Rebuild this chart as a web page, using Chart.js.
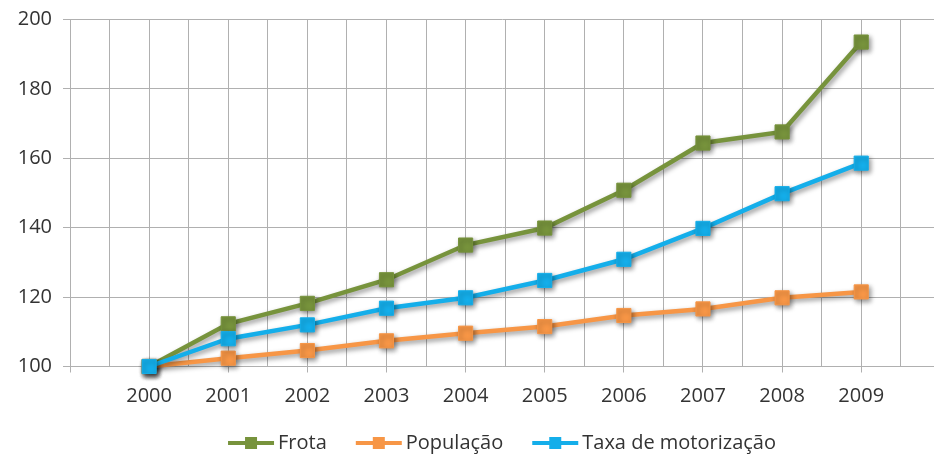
<!DOCTYPE html>
<html>
<head>
<meta charset="utf-8">
<title>Frota, População e Taxa de motorização (2000 = 100)</title>
<script src="https://cdn.jsdelivr.net/npm/chart.js@4/dist/chart.umd.min.js"></script>
<style>
  html, body { margin: 0; padding: 0; background: #ffffff; }
  #wrap { width: 934px; height: 454px; }
</style>
</head>
<body>
<div id="wrap"><canvas id="c" width="934" height="454"></canvas></div>
<script>
// Index numbers, base year 2000 = 100
const years = [2000, 2001, 2002, 2003, 2004, 2005, 2006, 2007, 2008, 2009];
const frota = [100, 112.3, 118.2, 125, 135, 139.9, 150.8, 164.4, 167.6, 193.5];
const populacao = [100, 102.4, 104.6, 107.4, 109.6, 111.5, 114.7, 116.6, 119.8, 121.5];
const taxa = [100, 108, 112, 116.8, 119.8, 124.8, 130.9, 139.8, 149.8, 158.6];
const seriesNames = ['Frota', 'População', 'Taxa de motorização'];
const yTicks = [100, 120, 140, 160, 180, 200];

const colors = ['#77933C', '#F79646', '#14AEEA'];
const FONT = '"Open Sans", "Liberation Sans", sans-serif';
const TEXT = '#333333';
const GRID = '#b0b0b0';

const toPoints = vals => vals.map((v, i) => ({ x: years[i], y: v }));

// gridlines every half year, labels on whole years only
const xStart = years[0] - 1;
const xEnd = years[years.length - 1] + 0.92;
const halfSteps = [];
for (let v = xStart; v <= years[years.length - 1] + 0.5; v += 0.5) halfSteps.push(v);

const isYear = v => Number.isInteger(v);

function series(idx, vals, order) {
  return {
    label: seriesNames[idx],
    data: toPoints(vals),
    borderColor: colors[idx],
    backgroundColor: colors[idx],
    pointBorderColor: colors[idx],
    pointBackgroundColor: colors[idx],
    borderWidth: 4.5,
    pointStyle: 'rect',
    pointRadius: 10,
    pointBorderWidth: 1,
    tension: 0,
    order: order,
    clip: false
  };
}

// soft drop shadow under lines and markers
const shadowPlugin = {
  id: 'shadow',
  beforeDatasetsDraw(chart) {
    const ctx = chart.ctx;
    ctx.save();
    ctx.shadowColor = 'rgba(0,0,0,0.42)';
    ctx.shadowBlur = 5;
    ctx.shadowOffsetX = 2;
    ctx.shadowOffsetY = 2.5;
  },
  afterDatasetsDraw(chart) {
    chart.ctx.restore();
  }
};

// legend row: line sample with a marker, then the series name
const lineLegend = {
  id: 'lineLegend',
  afterDraw(chart) {
    const ctx = chart.ctx;
    const area = chart.chartArea;
    ctx.save();
    ctx.font = '20px ' + FONT;
    ctx.textBaseline = 'middle';
    const sample = 46, gapText = 4, gapItem = 29;
    const widths = seriesNames.map(n => ctx.measureText(n).width);
    const total = widths.reduce((a, w) => a + sample + gapText + w, 0) + gapItem * (seriesNames.length - 1);
    let x = (area.left + area.right) / 2 - total / 2;
    const y = 443;
    seriesNames.forEach((name, i) => {
      ctx.strokeStyle = colors[i];
      ctx.lineWidth = 4;
      ctx.beginPath();
      ctx.moveTo(x, y);
      ctx.lineTo(x + sample, y);
      ctx.stroke();
      ctx.fillStyle = colors[i];
      ctx.fillRect(x + sample / 2 - 6, y - 6, 12, 12);
      ctx.fillStyle = TEXT;
      ctx.textAlign = 'left';
      ctx.fillText(name, x + sample + gapText, y);
      x += sample + gapText + widths[i] + gapItem;
    });
    ctx.restore();
  }
};

new Chart(document.getElementById('c'), {
  type: 'line',
  data: {
    datasets: [
      series(0, frota, 2),
      series(1, populacao, 1),
      series(2, taxa, 0)
    ]
  },
  options: {
    responsive: false,
    animation: false,
    devicePixelRatio: 1,
    layout: { autoPadding: false, padding: { top: 19.5, right: 0, bottom: 0, left: 0 } },
    plugins: {
      legend: { display: false },
      tooltip: { enabled: false }
    },
    scales: {
      x: {
        type: 'linear',
        min: xStart,
        max: xEnd,
        afterBuildTicks: s => {
          s.ticks = halfSteps.map(v => ({ value: v }));
          s.min = xStart;
          s.max = xEnd;
        },
        afterFit: s => {
          s.height = 87.5;
          s.paddingLeft = 0;
          s.paddingRight = 0;
        },
        border: { display: true, color: GRID, width: 1 },
        grid: {
          color: GRID,
          lineWidth: 1,
          drawTicks: true,
          tickLength: 6,
          tickColor: c => (isYear(c.tick.value) ? GRID : 'rgba(0,0,0,0)')
        },
        ticks: {
          autoSkip: false,
          maxRotation: 0,
          padding: 12,
          color: TEXT,
          font: { family: FONT, size: 20 },
          callback: v => (isYear(v) && years.includes(v) ? String(v) : '')
        }
      },
      y: {
        min: yTicks[0],
        max: yTicks[yTicks.length - 1],
        afterBuildTicks: s => { s.ticks = yTicks.map(v => ({ value: v })); },
        afterFit: s => {
          s.width = 70;
          s.paddingTop = 0;
          s.paddingBottom = 0;
        },
        border: { display: true, color: GRID, width: 1 },
        grid: { color: GRID, lineWidth: 1, tickLength: 7 },
        ticks: {
          padding: 11,
          color: TEXT,
          font: { family: FONT, size: 20 }
        }
      }
    }
  },
  plugins: [shadowPlugin, lineLegend]
});
</script>
</body>
</html>
